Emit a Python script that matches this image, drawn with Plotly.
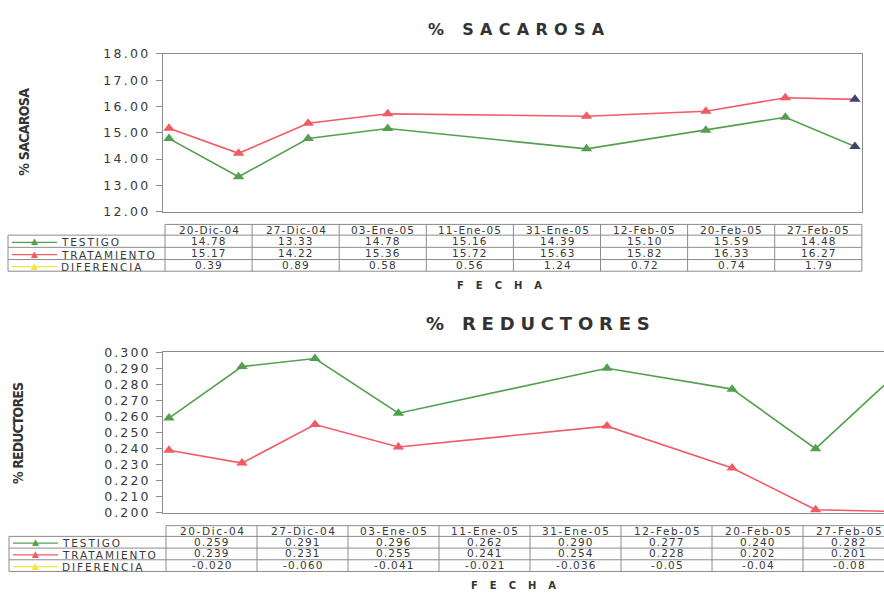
import plotly.graph_objects as go
import pandas as pd

W, H = 884, 597

# Sampling dates and their labels in the data table
fechas = ["2004-12-20", "2004-12-27", "2005-01-03", "2005-01-11",
          "2005-01-31", "2005-02-12", "2005-02-20", "2005-02-27"]
etiquetas_fecha = ["20-Dic-04", "27-Dic-04", "03-Ene-05", "11-Ene-05",
                   "31-Ene-05", "12-Feb-05", "20-Feb-05", "27-Feb-05"]

# % SACAROSA
sacarosa_testigo = [14.78, 13.33, 14.78, 15.16, 14.39, 15.10, 15.59, 14.48]
sacarosa_tratamiento = [15.17, 14.22, 15.36, 15.72, 15.63, 15.82, 16.33, 16.27]
sacarosa_diferencia = [0.39, 0.89, 0.58, 0.56, 1.24, 0.72, 0.74, 1.79]

# % REDUCTORES
reductores_testigo = [0.259, 0.291, 0.296, 0.262, 0.290, 0.277, 0.240, 0.282]
reductores_tratamiento = [0.239, 0.231, 0.255, 0.241, 0.254, 0.228, 0.202, 0.201]
reductores_diferencia = ["-0.020", "-0.060", "-0.041", "-0.021",
                         "-0.036", "-0.05", "-0.04", "-0.08"]

sacarosa_ticks = [12, 13, 14, 15, 16, 17, 18]
reductores_ticks = [0.20, 0.21, 0.22, 0.23, 0.24, 0.25, 0.26, 0.27, 0.28, 0.29, 0.30]

series = ["TESTIGO", "TRATAMIENTO", "DIFERENCIA"]
colores = ["#55a04f", "#f25a64", "#eee83c"]

TXT = "#383838"
GRID = "#8c8c8c"
FONT = "DejaVu Sans"
NARROW = "Liberation Sans Narrow, DejaVu Sans Condensed, Arial Narrow, sans-serif"


def px(x):
    return x / W


def py(y):
    return 1 - y / H


def spaced(text, sp):
    return f'<span style="letter-spacing:{sp}px">{text}</span>'


fig = go.Figure()

fx = pd.to_datetime(fechas)

# ---- line traces ----
mk_top = [None] * 7 + ["#46406c"]
for vals, col, name in [(sacarosa_testigo, colores[0], series[0]),
                        (sacarosa_tratamiento, colores[1], series[1])]:
    fig.add_trace(go.Scatter(
        x=fx, y=vals, name=name, mode="lines+markers",
        line=dict(color=col, width=1.6),
        marker=dict(symbol="triangle-up", size=10,
                    color=[c or col for c in mk_top]),
        cliponaxis=False, xaxis="x", yaxis="y"))
fig.add_trace(go.Scatter(
    x=fx, y=sacarosa_diferencia, name=series[2], mode="lines+markers",
    line=dict(color=colores[2], width=1.6),
    marker=dict(symbol="triangle-up", size=10, color=colores[2]),
    xaxis="x", yaxis="y"))

for vals, col, name in [(reductores_testigo, colores[0], series[0]),
                        (reductores_tratamiento, colores[1], series[1])]:
    fig.add_trace(go.Scatter(
        x=fx, y=vals, name=name, mode="lines+markers",
        line=dict(color=col, width=1.6),
        marker=dict(symbol="triangle-up", size=10, color=col),
        cliponaxis=False, xaxis="x2", yaxis="y2"))
fig.add_trace(go.Scatter(
    x=fx, y=[float(v) for v in reductores_diferencia], name=series[2],
    mode="lines+markers", line=dict(color=colores[2], width=1.6),
    marker=dict(symbol="triangle-up", size=10, color=colores[2]),
    xaxis="x2", yaxis="y2"))

# ---- axes ----
top_range = [fx[0] - pd.Timedelta(hours=14.5), fx[-1] + pd.Timedelta(hours=17)]
bot_start = fx[0] - pd.Timedelta(hours=13.7)
bot_range = [bot_start, bot_start + pd.Timedelta(days=69.13)]

xcommon = dict(type="date", showticklabels=False, ticks="", showgrid=False,
               zeroline=False, showline=True, linecolor=GRID, linewidth=1,
               mirror=True)
ycommon = dict(showgrid=False, zeroline=False, showline=True, linecolor=GRID,
               linewidth=1, ticks="outside", ticklen=6, tickcolor=GRID,
               tickfont=dict(family=FONT, size=12.5, color=TXT),
               ticklabelstandoff=3)

fig.update_layout(
    xaxis=dict(domain=[px(163), px(862)], range=top_range, anchor="y", **xcommon),
    yaxis=dict(domain=[py(209), py(47)], range=[12, 18], anchor="x",
               tickvals=sacarosa_ticks,
               ticktext=[spaced(f"{v:.2f}", 2.3) for v in sacarosa_ticks],
               mirror=True, **ycommon),
    xaxis2=dict(domain=[px(163), 1.0], range=bot_range, anchor="y2", **xcommon),
    yaxis2=dict(domain=[py(518), py(353)], range=[0.2, 0.3], anchor="x2",
                tickvals=reductores_ticks,
                ticktext=[spaced(f"{v:.3f}", 2.1) for v in reductores_ticks],
                mirror=False, **ycommon),
)

shapes = []
annotations = []


def hline(x0, x1, y):
    shapes.append(dict(type="line", xref="paper", yref="paper",
                       x0=px(x0), x1=px(x1), y0=py(y), y1=py(y),
                       line=dict(color=GRID, width=1)))


def vline(x, y0, y1):
    shapes.append(dict(type="line", xref="paper", yref="paper",
                       x0=px(x), x1=px(x), y0=py(y0), y1=py(y1),
                       line=dict(color=GRID, width=1)))


def text(x, y, s, size, anchor="center", color=TXT, bold=False, family=FONT,
         angle=0):
    annotations.append(dict(x=px(x), y=py(y), xref="paper", yref="paper",
                            text=f"<b>{s}</b>" if bold else s,
                            showarrow=False, xanchor=anchor, yanchor="middle",
                            textangle=angle, borderpad=0,
                            font=dict(family=family, size=size, color=color)))


def data_table(xl, x0, cw, ys, labels, rows, size, sp_head, sp_val, dy):
    """Excel-style data table under a chart: ys = header top, header bottom,
    then the bottom edge of each series row."""
    x_end = x0 + cw * len(labels)
    hline(x0, x_end, ys[0])
    for y in ys[1:]:
        hline(xl, x_end, y)
    vline(xl, ys[1], ys[-1])
    for k in range(len(labels) + 1):
        vline(x0 + k * cw, ys[0], ys[-1])
    for k, lab in enumerate(labels):
        text(x0 + (k + 0.5) * cw + sp_head / 2, (ys[0] + ys[1]) / 2,
             spaced(lab, sp_head), size)
    for r, (vals, col, name) in enumerate(zip(rows, colores, series)):
        yc = (ys[r + 1] + ys[r + 2]) / 2
        for k, v in enumerate(vals):
            text(x0 + (k + 0.5) * cw + sp_val / 2, yc - 0.5, spaced(v, sp_val), size)
        # legend key: line with triangle marker
        shapes.append(dict(type="line", xref="paper", yref="paper",
                           x0=px(xl + 4), x1=px(xl + 49), y0=py(yc + dy),
                           y1=py(yc + dy), line=dict(color=col, width=1.3)))
        text(xl + 26, yc + dy - 1, "▲", 9, color=col)
        text(xl + 52, yc + dy, spaced(name, 1.9), size, anchor="left")


data_table(8, 165, 87.1, [222, 233, 245.5, 258, 270], etiquetas_fecha,
           [[f"{v:.2f}" for v in sacarosa_testigo],
            [f"{v:.2f}" for v in sacarosa_tratamiento],
            [f"{v:.2f}" for v in sacarosa_diferencia]],
           10.5, 1.1, 1.1, 1.2)

data_table(9, 166, 91, [531, 542, 554, 566, 578], etiquetas_fecha,
           [[f"{v:.3f}" for v in reductores_testigo],
            [f"{v:.3f}" for v in reductores_tratamiento],
            reductores_diferencia],
           10.5, 1.6, 1.1, 1.0)

# titles
text(516 + 3, 22, spaced("% SACAROSA", 6.3), 16, bold=True, color="#333333")
text(538 + 3, 324, spaced("% REDUCTORES", 5.8), 18, bold=True, color="#333333")
text(500 + 6, 285, spaced("FECHA", 12), 10, bold=True, color="#333333")
text(513 + 6, 592, spaced("FECHA", 12), 10, bold=True, color="#333333")

# y-axis titles
text(24, 127, spaced("% SACAROSA", -0.7), 14, bold=True, family=NARROW,
     color="#333333", angle=-90)
text(18, 436, spaced("% REDUCTORES", -0.9), 14, bold=True, family=NARROW,
     color="#333333", angle=-90)

fig.update_layout(
    width=W, height=H, autosize=False,
    margin=dict(l=0, r=0, t=0, b=0),
    paper_bgcolor="white", plot_bgcolor="white",
    showlegend=False,
    font=dict(family=FONT, color=TXT),
    shapes=shapes, annotations=annotations,
)

fig.write_html("out.html")
